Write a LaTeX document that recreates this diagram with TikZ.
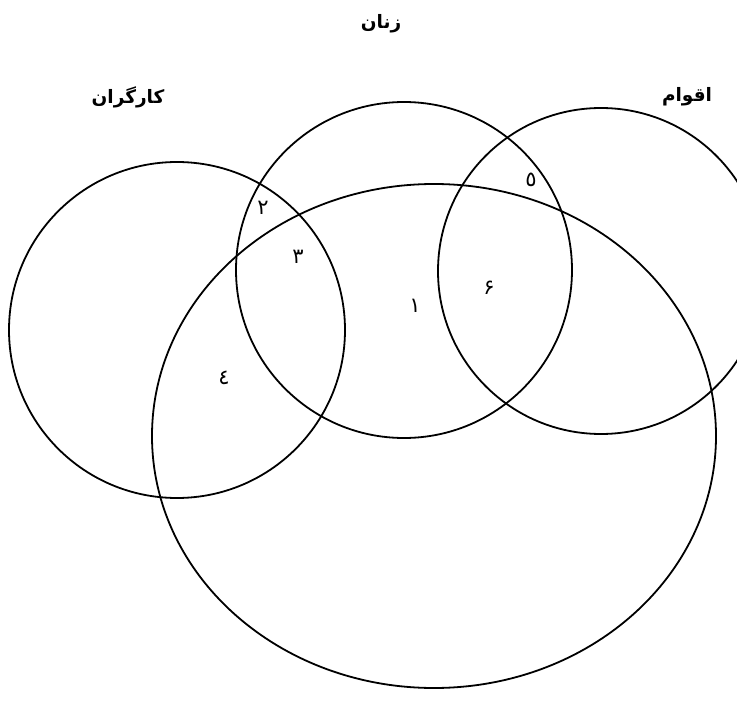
\documentclass[tikz,border=0pt]{standalone}
\usepackage{fontspec}
\newfontfamily\persianfont[Script=Arabic]{DejaVu Sans}
\TeXXeTstate=1
\tikzset{setname/.style={font=\persianfont\bfseries\fontsize{18.5}{22}\selectfont},
  region/.style={font=\persianfont\fontsize{21}{24}\selectfont}}

\begin{document}
\begin{tikzpicture}[x=1pt, y=-1pt, line width=1.8pt]
  \useasboundingbox (0,0) rectangle (737,714);
  \clip (0,0) rectangle (737,714);
  \coordinate (karegaran) at (177,330); \coordinate (zanan) at (404,270);
  \coordinate (aqvam) at (601,271); \coordinate (kol) at (434,436);
  \draw (karegaran) circle[radius=168pt];
  \draw (zanan) circle[radius=168pt];
  \draw (aqvam) circle[radius=163pt];
  \draw (kol) ellipse[x radius=282pt, y radius=252pt];
  \node[setname] (zananlbl) at (381,24) {\beginR زنان\endR};
  \node[setname] (karegaranlbl) at (128,97) {\beginR کارگران\endR};
  \node[setname] (aqvamlbl) at (687,97) {\beginR اقوام\endR};
  \node[region] (r1) at (415,306) {١};
  \node[region] (r2) at (263,208) {۲};
  \node[region] (r3) at (298,257) {۳};
  \node[region] (r4) at (224,378) {٤};
  \node[region] (r5) at (531,180) {٥};
  \node[region] (r6) at (489,288) {۶};
\end{tikzpicture}
\end{document}
